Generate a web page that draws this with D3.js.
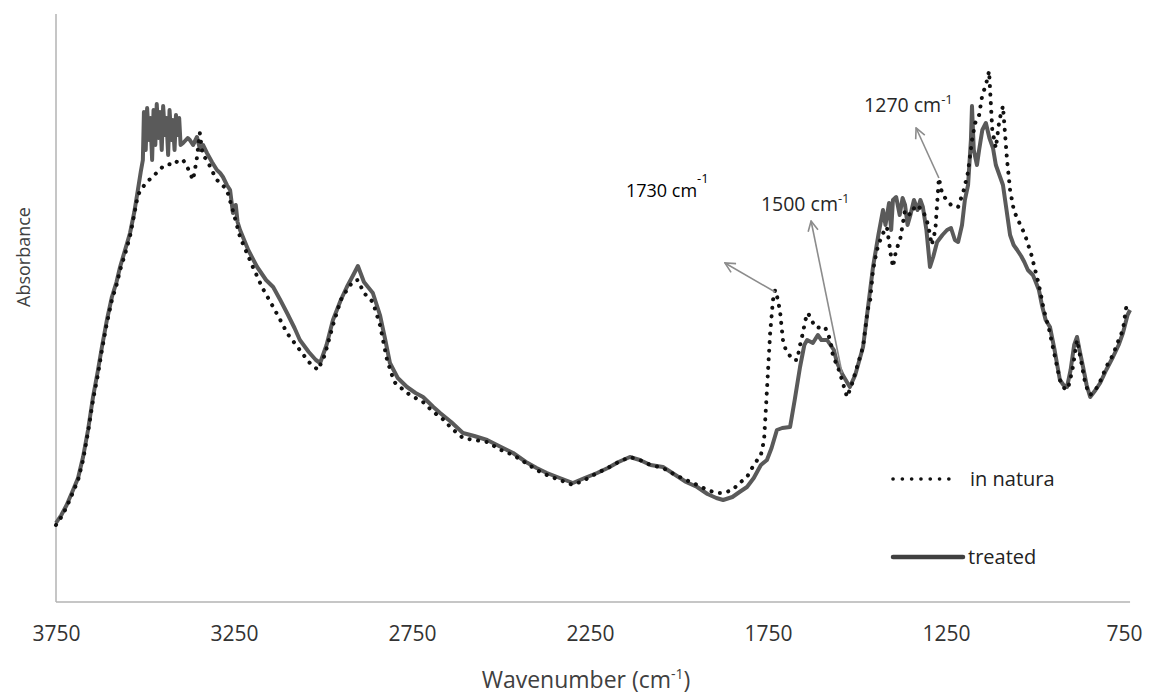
<!DOCTYPE html>
<html>
<head>
<meta charset="utf-8">
<script src="https://cdn.jsdelivr.net/npm/d3@7"></script>
<style>
  html, body { margin: 0; padding: 0; background: #fff; }
  svg { display: block; font-family: "Open Sans", Lato, sans-serif; }
</style>
</head>
<body>
<svg id="chart" width="1156" height="694"></svg>
<script>
// FTIR spectra: in natura vs treated (arbitrary absorbance units)
const xTicks = [3750, 3250, 2750, 2250, 1750, 1250, 750];

const natWn = [3750,3735,3720,3702,3688,3674,3660,3646,3633,3621,3607,3593,3580,3570,3556,3542,3530,3520,3506,3495,3479,3465,3451,3435,3420,3406,3393,3380,3365,3355,3346,3338,3326,3310,3298,3285,3270,3252,3233,3215,3197,3170,3140,3120,3101,3080,3065,3040,3014,2995,2972,2950,2933,2915,2902,2885,2860,2840,2820,2800,2764,2740,2719,2690,2660,2640,2607,2575,2539,2500,2466,2430,2400,2371,2335,2298,2265,2230,2200,2170,2138,2110,2080,2045,2010,1980,1949,1920,1895,1876,1850,1830,1809,1790,1770,1761,1753,1744,1736,1730,1722,1716,1708,1700,1694,1680,1668,1660,1652,1645,1638,1630,1618,1600,1590,1575,1567,1556,1548,1538,1528,1515,1500,1483,1470,1463,1455,1444,1430,1416,1405,1399,1390,1379,1365,1350,1335,1315,1300,1290,1280,1270,1260,1247,1236,1225,1216,1200,1188,1177,1168,1157,1148,1138,1129,1120,1110,1100,1090,1079,1070,1059,1045,1028,1010,989,975,960,945,930,915,905,895,882,870,858,845,830,815,800,781,765,753,745,740];
const natAbs = [.077,.085,.095,.110,.122,.142,.170,.202,.226,.252,.279,.302,.317,.332,.348,.366,.388,.407,.415,.420,.425,.430,.435,.438,.437,.442,.442,.434,.422,.442,.469,.447,.442,.430,.422,.418,.412,.390,.365,.350,.335,.314,.295,.282,.269,.259,.252,.240,.232,.247,.277,.302,.312,.321,.322,.309,.300,.277,.242,.220,.209,.204,.200,.190,.182,.174,.164,.162,.160,.152,.147,.139,.132,.127,.122,.117,.122,.129,.134,.140,.145,.142,.137,.134,.127,.122,.117,.112,.109,.109,.112,.119,.125,.137,.147,.162,.212,.269,.302,.312,.302,.290,.262,.252,.249,.242,.242,.257,.269,.282,.289,.284,.275,.274,.275,.262,.245,.237,.229,.217,.205,.217,.235,.255,.292,.302,.332,.352,.367,.375,.347,.335,.352,.362,.392,.387,.397,.392,.377,.357,.372,.424,.407,.402,.397,.395,.395,.412,.430,.462,.479,.487,.507,.517,.531,.472,.454,.482,.496,.444,.412,.391,.380,.367,.347,.317,.292,.272,.247,.222,.212,.217,.232,.262,.240,.217,.207,.212,.222,.235,.247,.262,.272,.292,.302];

const trtWn = [3750,3735,3720,3702,3688,3674,3660,3646,3633,3621,3607,3593,3580,3570,3556,3542,3530,3520,3512,3506,3503,3498,3494,3489,3485,3480,3476,3471,3467,3462,3458,3453,3449,3444,3440,3435,3431,3426,3422,3417,3413,3408,3404,3400,3393,3380,3374,3365,3354,3345,3337,3326,3312,3298,3289,3281,3270,3261,3253,3245,3240,3233,3210,3185,3160,3140,3120,3101,3080,3065,3040,3020,3008,2990,2972,2950,2933,2915,2902,2885,2860,2840,2825,2812,2790,2764,2740,2719,2690,2671,2640,2607,2575,2539,2500,2466,2430,2400,2371,2335,2298,2265,2230,2200,2170,2138,2110,2080,2045,2010,1980,1949,1920,1895,1876,1850,1830,1809,1790,1770,1753,1740,1725,1710,1688,1675,1660,1648,1640,1624,1610,1600,1584,1565,1556,1540,1520,1505,1483,1470,1455,1440,1427,1420,1410,1404,1399,1390,1380,1372,1365,1358,1350,1340,1330,1322,1315,1305,1295,1286,1275,1260,1247,1236,1225,1216,1205,1197,1188,1180,1177,1172,1163,1157,1148,1138,1128,1118,1110,1100,1090,1080,1070,1060,1050,1039,1030,1020,1006,1000,989,980,970,958,945,930,920,910,900,890,882,875,865,855,845,830,817,800,781,765,753,740,733];
const trtAbs = [.079,.087,.097,.112,.124,.145,.172,.205,.230,.255,.282,.305,.320,.335,.352,.369,.390,.412,.430,.442,.490,.452,.494,.462,.484,.442,.492,.457,.498,.464,.490,.452,.496,.467,.484,.447,.492,.462,.482,.452,.487,.467,.484,.457,.459,.464,.462,.457,.465,.452,.457,.449,.440,.432,.429,.425,.417,.412,.389,.397,.380,.372,.352,.335,.322,.315,.302,.289,.274,.262,.250,.242,.239,.257,.282,.302,.315,.327,.336,.320,.309,.287,.262,.239,.224,.215,.209,.205,.195,.189,.180,.169,.166,.162,.155,.149,.140,.134,.129,.124,.119,.124,.129,.134,.140,.145,.142,.137,.135,.127,.120,.115,.108,.104,.102,.105,.110,.115,.124,.137,.142,.154,.172,.174,.175,.202,.235,.257,.262,.259,.267,.262,.262,.252,.239,.227,.215,.227,.255,.292,.335,.367,.392,.377,.399,.372,.402,.405,.387,.404,.397,.377,.387,.402,.392,.402,.395,.372,.335,.345,.360,.367,.372,.374,.362,.360,.377,.402,.417,.462,.496,.452,.437,.452,.472,.479,.464,.454,.437,.427,.417,.392,.367,.357,.352,.346,.340,.332,.327,.322,.312,.296,.282,.275,.252,.222,.217,.215,.232,.257,.265,.252,.235,.217,.205,.212,.219,.232,.245,.257,.269,.287,.292];

// annotations: label, arrow tail [wn, abs], arrow head [wn, abs], label anchor [wn, abs]
const annLabels = ["1730 cm", "1500 cm", "1270 cm"];
const annFrom = [[1730, .310], [1542, .229], [1270, .424]];
const annTo = [[1871, .339], [1629, .381], [1334, .474]];
const annAt = [[2149, .405], [1770, .391], [1480, .490]];

const svg = d3.select('#chart');
const x = d3.scaleLinear().domain([3750, 750]).range([56, 1124]);
const y = d3.scaleLinear().domain([0, 0.59]).range([602, 12]);

// axes (Excel style: light grey lines, no tick marks)
svg.append('line').attr('x1', 56).attr('x2', 56).attr('y1', 14).attr('y2', 602)
  .attr('stroke', '#b3b3b3').attr('stroke-width', 1.5);
svg.append('line').attr('x1', 56).attr('x2', x(733)).attr('y1', 602).attr('y2', 602)
  .attr('stroke', '#b3b3b3').attr('stroke-width', 1.5);

const xAxis = svg.append('g').attr('transform', 'translate(0,602)')
  .call(d3.axisBottom(x).tickValues(xTicks).tickSize(0).tickPadding(24).tickFormat(d3.format('d')));
xAxis.select('.domain').remove();
xAxis.selectAll('text').attr('font-size', 21).attr('fill', '#333').attr('font-family', '"Open Sans", sans-serif');

const xt = svg.append('text').attr('x', 586).attr('y', 688).attr('text-anchor', 'middle')
  .attr('font-size', 23).attr('fill', '#404040').text('Wavenumber (cm');
xt.append('tspan').attr('dy', -9).attr('font-size', 14).text('-1');
xt.append('tspan').attr('dy', 9).text(')');
svg.append('text').attr('transform', 'translate(30,257) rotate(-90)').attr('text-anchor', 'middle')
  .attr('font-size', 18).attr('fill', '#404040').text('Absorbance');

const line = d3.line().x(d => x(d[0])).y(d => y(d[1]));
const natPts = natWn.map((w, i) => [w, natAbs[i]]);
const trtPts = trtWn.map((w, i) => [w, trtAbs[i]]);

svg.append('path').datum(trtPts).attr('d', line)
  .attr('fill', 'none').attr('stroke', '#5a5a5a').attr('stroke-width', 4).attr('stroke-linejoin', 'round');
svg.append('path').datum(natPts).attr('d', line)
  .attr('fill', 'none').attr('stroke', '#111').attr('stroke-width', 4)
  .attr('stroke-linecap', 'round').attr('stroke-dasharray', '0.1 8.5');

// arrows
const defs = svg.append('defs');
defs.append('marker').attr('id', 'arr').attr('viewBox', '0 0 12 12').attr('refX', 11).attr('refY', 6)
  .attr('markerWidth', 12).attr('markerHeight', 12).attr('markerUnits', 'userSpaceOnUse').attr('orient', 'auto')
  .append('path').attr('d', 'M1,1 L11,6 L1,11').attr('fill', 'none').attr('stroke', '#8c8c8c').attr('stroke-width', 1.6);

svg.append('g').selectAll('line').data(annFrom).join('line')
  .attr('x1', d => x(d[0])).attr('y1', d => y(d[1]))
  .attr('x2', (d, i) => x(annTo[i][0])).attr('y2', (d, i) => y(annTo[i][1]))
  .attr('stroke', '#8c8c8c').attr('stroke-width', 1.6).attr('marker-end', 'url(#arr)');

const lab = svg.append('g').selectAll('text').data(annLabels).join('text')
  .attr('x', (d, i) => x(annAt[i][0])).attr('y', (d, i) => y(annAt[i][1]))
  .attr('font-size', (d, i) => i === 0 ? 18 : 19.5).attr('fill', (d, i) => i === 0 ? '#000' : '#262626')
  .text(d => d);
lab.append('tspan').attr('dy', (d, i) => i === 0 ? -14 : -8).attr('font-size', 13).text('-1');

// legend
const leg = svg.append('g');
leg.append('line').attr('x1', 893).attr('x2', 958).attr('y1', 479).attr('y2', 479)
  .attr('stroke', '#111').attr('stroke-width', 3.6).attr('stroke-linecap', 'round').attr('stroke-dasharray', '0.1 9.2');
leg.append('text').attr('x', 970).attr('y', 486).attr('font-size', 20).attr('fill', '#222').text('in natura');
leg.append('line').attr('x1', 893).attr('x2', 963).attr('y1', 557).attr('y2', 557)
  .attr('stroke', '#404040').attr('stroke-width', 4.5).attr('stroke-linecap', 'round');
leg.append('text').attr('x', 968).attr('y', 564).attr('font-size', 20).attr('fill', '#222').text('treated');
</script>
</body>
</html>
